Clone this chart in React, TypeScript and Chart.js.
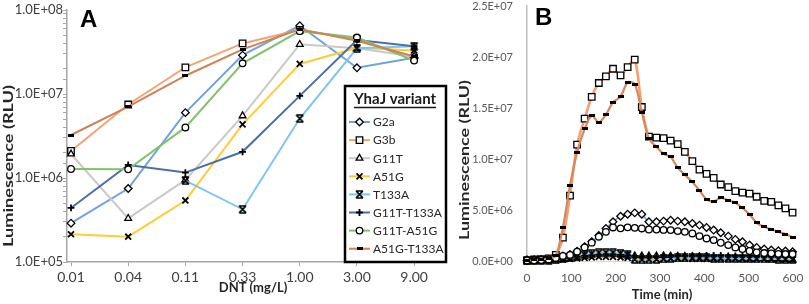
import React, { useEffect, useRef } from 'react';
import { Chart, registerables } from 'chart.js';
import { drawPoint } from 'chart.js/helpers';

Chart.register(...registerables);

// ---------------- data ----------------
const variantNames = ['G2a', 'G3b', 'G11T', 'A51G', 'T133A', 'G11T-T133A', 'G11T-A51G', 'A51G-T133A'];

// Panel A: luminescence vs DNT dose
const doseLabels = ['0.01', '0.04', '0.11', '0.33', '1.00', '3.00', '9.00'];
const doseG2a = [2.9e5, 7.5e5, 6.0e6, 2.9e7, 6.5e7, 2.05e7, 2.7e7];
const doseG3b = [2.1e6, 7.5e6, 2.08e7, 4.0e7, 5.8e7, 4.5e7, 2.7e7];
const doseG11T = [1.93e6, 3.3e5, 9.5e5, 5.5e6, 3.9e7, 3.5e7, 2.8e7];
const doseA51G = [2.14e5, 2.0e5, 5.4e5, 4.35e6, 2.28e7, 3.55e7, 3.3e7];
const doseT133A = [null, null, 9.3e5, 4.24e5, 5.1e6, 3.5e7, 3.7e7];
const doseG11T_T133A = [4.4e5, 1.43e6, 1.16e6, 2.05e6, 9.5e6, 4.4e7, 3.7e7];
const doseG11T_A51G = [1.28e6, 1.27e6, 4.0e6, 2.32e7, 5.6e7, 4.7e7, 2.5e7];
const doseA51G_T133A = [3.25e6, 7.06e6, 1.65e7, 3.4e7, 5.9e7, 4.3e7, 2.8e7];
const doseSeries = [doseG2a, doseG3b, doseG11T, doseA51G, doseT133A, doseG11T_T133A, doseG11T_A51G, doseA51G_T133A];

// Panel B: luminescence vs time
const timeMin = [0, 16, 32, 49, 65, 81, 97, 113, 130, 146, 162, 178, 194, 211, 227, 243, 259, 275, 292, 308, 324, 340, 356, 373, 389, 405, 421, 437, 454, 470, 486, 502, 518, 535, 551, 567, 583, 599];
const timeG2a = [5e4, 7e4, 1e5, 1.5e5, 3e5, 5e5, 6.5e5, 9.5e5, 1.4e6, 1.9e6, 2.5e6, 3.19e6, 3.84e6, 4.39e6, 4.59e6, 4.72e6, 4.59e6, 3.84e6, 3.84e6, 3.91e6, 4.0e6, 3.91e6, 3.84e6, 3.68e6, 3.52e6, 3.29e6, 3.03e6, 2.77e6, 2.44e6, 2.12e6, 1.89e6, 1.56e6, 1.33e6, 1.17e6, 1.07e6, 1.0e6, 9.8e5, 9.1e5];
const timeG3b = [5e4, 1.5e5, 1.7e5, 2.5e5, 6.0e5, 2.3e6, 6.4e6, 1.14e7, 1.395e7, 1.61e7, 1.745e7, 1.81e7, 1.885e7, 1.82e7, 1.9e7, 1.975e7, 1.51e7, 1.22e7, 1.21e7, 1.205e7, 1.18e7, 1.145e7, 1.07e7, 9.8e6, 8.95e6, 8.55e6, 8.15e6, 7.5e6, 7.25e6, 6.85e6, 6.7e6, 6.6e6, 6.3e6, 5.9e6, 5.8e6, 5.45e6, 5.15e6, 4.75e6];
const timeG11T = [1e5, 1e5, 1e5, 1.2e5, 1.5e5, 2e5, 3e5, 4e5, 5e5, 5.5e5, 6e5, 6e5, 6e5, 5.8e5, 5.5e5, 5e5, 5e5, 5e5, 5e5, 5e5, 4.8e5, 4.5e5, 4.5e5, 4.2e5, 4e5, 4e5, 3.8e5, 3.5e5, 3.5e5, 3.3e5, 3e5, 3e5, 2.8e5, 2.5e5, 2.2e5, 2e5, 1.5e5, 1.2e5];
const timeA51G = [2e4, 3e4, 5e4, 7e4, 1e5, 1.5e5, 2e5, 2.5e5, 3e5, 3.5e5, 4e5, 4e5, 4e5, 3.5e5, 3e5, 2.5e5, 2e5, 2e5, 2e5, 2.2e5, 2.2e5, 2.2e5, 2.2e5, 2e5, 2e5, 2e5, 2e5, 2e5, 2e5, 2e5, 2e5, 1.8e5, 1.8e5, 1.8e5, 1.8e5, 1.5e5, 1.5e5, 1.5e5];
const timeT133A = [2e4, 3e4, 5e4, 8e4, 1.2e5, 2e5, 3e5, 4.5e5, 6e5, 7e5, 8e5, 8.2e5, 8e5, 7.5e5, 6e5, 1.5e5, 1e5, 1.2e5, 1.5e5, 2e5, 2.5e5, 3e5, 3e5, 3e5, 3e5, 3e5, 2.8e5, 2.8e5, 2.7e5, 2.5e5, 2.5e5, 2.5e5, 2.2e5, 2e5, 2e5, 1.8e5, 1.8e5, 1.5e5];
const timeG11T_T133A = [2e4, 3e4, 5e4, 8e4, 1.2e5, 2e5, 3e5, 4e5, 5e5, 5.5e5, 6e5, 6.5e5, 6.5e5, 6e5, 5.5e5, 5e5, 4.5e5, 4.5e5, 4.5e5, 5e5, 5e5, 5e5, 5e5, 5e5, 5e5, 5.5e5, 5.5e5, 5.5e5, 5e5, 5e5, 5e5, 5e5, 4.8e5, 4.5e5, 4.5e5, 4.2e5, 4e5, 4e5];
const timeG11T_A51G = [5e4, 7e4, 1e5, 1.5e5, 3e5, 5e5, 6e5, 9.1e5, 1.33e6, 1.8e6, 2.38e6, 2.86e6, 3.29e6, 3.2e6, 3.3e6, 3.25e6, 3.19e6, 3.09e6, 3.09e6, 3.05e6, 3.03e6, 2.93e6, 2.86e6, 2.7e6, 2.44e6, 2.21e6, 2.05e6, 1.79e6, 1.56e6, 1.33e6, 1.17e6, 9.8e5, 8.5e5, 7.8e5, 7.5e5, 7e5, 6.8e5, 6.8e5];
const timeA51G_T133A = [5e4, 1e5, 1.5e5, 2.5e5, 5e5, 3.3e6, 7.4e6, 1.065e7, 1.296e7, 1.423e7, 1.36e7, 1.436e7, 1.556e7, 1.611e7, 1.751e7, 1.735e7, 1.46e7, 1.2e7, 1.12e7, 1.05e7, 1.02e7, 9.15e6, 8.45e6, 7.75e6, 6.93e6, 6.05e6, 5.86e6, 6.18e6, 5.96e6, 5.7e6, 5.2e6, 4.56e6, 3.74e6, 3.35e6, 3.09e6, 2.86e6, 2.64e6, 2.31e6];
const timeSeries = [timeG2a, timeG3b, timeG11T, timeA51G, timeT133A, timeG11T_T133A, timeG11T_A51G, timeA51G_T133A];

// ---------------- styles ----------------
const lineColors = ['#6fa3d9', '#f4a373', '#c9c9c9', '#ffcc33', '#82c5ec', '#4a6ea6', '#80c26c', '#cd8257'];
const lineColorsB = ['#6fa3d9', '#f2a070', '#c9c9c9', '#ffcc33', '#82c5ec', '#4a6ea6', '#80c26c', '#d7875c'];
const lineWidthsB = [1.6, 2.6, 1.6, 1.6, 1.6, 1.6, 1.6, 2.2];
const markerKinds = ['rectRot', 'rect', 'triangle', 'crossRot', 'hourglass', 'cross', 'circle', 'bar'];
const markerRadius: Record<string, number> = { rectRot: 3.8, rect: 4.6, triangle: 3.9, crossRot: 4.2, hourglass: 4, cross: 3.4, circle: 3.3, bar: 3 };

const FONT = 'Lato, "Open Sans", "DejaVu Sans", sans-serif';
Chart.defaults.font.family = FONT;

function fmtE(v: number): string {
  const [m, e] = Number(v).toExponential(1).split('e');
  const n = parseInt(e, 10);
  return m + 'E' + (n < 0 ? '-' : '+') + String(Math.abs(n)).padStart(2, '0');
}

function makeHourglass(): HTMLCanvasElement {
  const c = document.createElement('canvas');
  c.width = 9; c.height = 9;
  const g = c.getContext('2d')!;
  g.strokeStyle = '#000'; g.lineWidth = 1.7;
  g.beginPath();
  g.moveTo(1, 1); g.lineTo(8, 8); g.moveTo(8, 1); g.lineTo(1, 8);
  g.moveTo(1, 1); g.lineTo(8, 1); g.moveTo(1, 8); g.lineTo(8, 8);
  g.stroke();
  return c;
}
function makeBar(): HTMLCanvasElement {
  const c = document.createElement('canvas');
  c.width = 6; c.height = 3;
  const g = c.getContext('2d')!;
  g.fillStyle = '#000'; g.fillRect(0, 0, 6, 3);
  return c;
}

function markerStyle(i: number, custom: Record<string, any>) {
  const kind = markerKinds[i];
  const isStroke = kind === 'cross' || kind === 'crossRot';
  return {
    pointStyle: custom[kind] ?? kind,
    pointRadius: markerRadius[kind],
    pointBackgroundColor: '#ffffff',
    pointBorderColor: '#000000',
    pointBorderWidth: isStroke ? 1.8 : 1.3,
  };
}

type TextItem = { text: string; x: number; y: number; font: string; color: string; rotate?: boolean; length?: number; align?: CanvasTextAlign; baseline?: CanvasTextBaseline };

function textPlugin(id: string, items: TextItem[]) {
  return {
    id,
    afterDraw(chart: any) {
      const ctx = chart.ctx as CanvasRenderingContext2D;
      items.forEach((it) => {
        ctx.save();
        ctx.font = it.font;
        ctx.fillStyle = it.color;
        ctx.textAlign = it.align ?? 'center';
        ctx.textBaseline = it.baseline ?? 'middle';
        ctx.translate(it.x, it.y);
        if (it.rotate) ctx.rotate(-Math.PI / 2);
        if (it.length) {
          const w = ctx.measureText(it.text).width;
          ctx.scale(it.length / w, 1);
        }
        ctx.fillText(it.text, 0, 0);
        ctx.restore();
      });
    },
  };
}

const LEG = { left: 345, top: 86, right: 446, bottom: 262, titleX: 395, titleY: 99, rowY0: 122, rowGap: 18.1, lineX0: 349, lineX1: 370, textX: 373 };

const boxLegend = {
  id: 'boxLegend',
  afterDraw(chart: any) {
    const ctx = chart.ctx as CanvasRenderingContext2D;
    ctx.save();
    ctx.fillStyle = '#ffffff';
    ctx.fillRect(LEG.left, LEG.top, LEG.right - LEG.left, LEG.bottom - LEG.top);
    ctx.strokeStyle = '#000000';
    ctx.lineWidth = 2.5;
    ctx.strokeRect(LEG.left, LEG.top, LEG.right - LEG.left, LEG.bottom - LEG.top);
    // title
    ctx.font = `bold 15px ${FONT}`;
    ctx.fillStyle = '#1a1a1a';
    ctx.textAlign = 'center';
    ctx.textBaseline = 'middle';
    ctx.fillText('YhaJ variant', LEG.titleX, LEG.titleY);
    const tw = ctx.measureText('YhaJ variant').width;
    ctx.lineWidth = 1.3;
    ctx.strokeStyle = '#1a1a1a';
    ctx.beginPath();
    ctx.moveTo(LEG.titleX - tw / 2, LEG.titleY + 8.5);
    ctx.lineTo(LEG.titleX + tw / 2, LEG.titleY + 8.5);
    ctx.stroke();
    chart.data.datasets.forEach((ds: any, i: number) => {
      const y = LEG.rowY0 + i * LEG.rowGap;
      ctx.strokeStyle = ds.borderColor;
      ctx.lineWidth = 2;
      ctx.beginPath();
      ctx.moveTo(LEG.lineX0, y);
      ctx.lineTo(LEG.lineX1, y);
      ctx.stroke();
      ctx.fillStyle = '#ffffff';
      ctx.strokeStyle = '#000000';
      ctx.lineWidth = ds.pointBorderWidth;
      drawPoint(ctx, { pointStyle: ds.pointStyle, radius: ds.pointRadius, borderWidth: ds.pointBorderWidth, rotation: 0 } as any, (LEG.lineX0 + LEG.lineX1) / 2, y);
      ctx.fillStyle = '#262626';
      ctx.font = `12px ${FONT}`;
      ctx.textAlign = 'left';
      ctx.textBaseline = 'middle';
      ctx.fillText(ds.label, LEG.textX, y + 0.5);
    });
    ctx.restore();
  },
};

const WA = 455;
const WB = 809 - WA;
const H = 304;

export default function App() {
  const refA = useRef<HTMLCanvasElement>(null);
  const refB = useRef<HTMLCanvasElement>(null);

  useEffect(() => {
    const custom = { hourglass: makeHourglass(), bar: makeBar() };
    const isPow10 = (v: number) => Math.abs(Math.log10(v) - Math.round(Math.log10(v))) < 1e-9;

    const chartA = new Chart(refA.current!, {
      type: 'line',
      data: {
        datasets: variantNames.map((name, i) => ({
          label: name,
          data: doseSeries[i].map((v, j) => ({ x: j, y: v })),
          borderColor: lineColors[i],
          borderWidth: 2,
          tension: 0,
          clip: false as any,
          order: variantNames.length - i,
          ...markerStyle(i, custom),
        })),
      },
      options: {
        responsive: false,
        animation: false,
        events: [],
        layout: { padding: { top: 10, right: WA - 421, left: 0, bottom: 0 } },
        plugins: { legend: { display: false }, tooltip: { enabled: false } },
        scales: {
          x: {
            type: 'linear',
            min: -0.07,
            max: 6.12,
            afterBuildTicks: (s: any) => { s.ticks = doseLabels.map((_, i) => ({ value: i })); },
            ticks: { callback: (_v: any, idx: number) => doseLabels[idx], font: { size: 14 }, color: '#404040', padding: 3, maxRotation: 0, autoSkip: false },
            grid: { drawOnChartArea: false, drawTicks: true, tickLength: 4, color: '#a6a6a6' },
            border: { color: '#a6a6a6', width: 1.5 },
            afterFit: (s: any) => { s.height = H - 262; s.paddingLeft = 0; s.paddingRight = 0; },
          },
          y: {
            type: 'logarithmic',
            min: 1e5,
            max: 1e8,
            ticks: { callback: (v: any) => (isPow10(Number(v)) ? fmtE(Number(v)) : ''), autoSkip: false, font: { size: 13 }, color: '#404040', padding: 0 },
            grid: { drawOnChartArea: false, drawTicks: true, tickLength: 4, color: '#a6a6a6' },
            border: { color: '#a6a6a6', width: 1.5 },
            afterFit: (s: any) => { s.width = 67; s.paddingTop = 0; s.paddingBottom = 0; },
          },
        },
      } as any,
      plugins: [
        boxLegend,
        textPlugin('textA', [
          { text: 'A', x: 80, y: 27, font: 'bold 24px "Liberation Sans", Arial, sans-serif', color: '#000', align: 'left', baseline: 'alphabetic' },
          { text: 'Luminescence (RLU)', x: 9, y: 166, font: `bold 13px ${FONT}`, color: '#262626', rotate: true, length: 162 },
          { text: 'DNT (mg/L)', x: 253, y: 288, font: `bold 13px ${FONT}`, color: '#262626' },
        ]),
      ] as any,
    });

    const chartB = new Chart(refB.current!, {
      type: 'line',
      data: {
        datasets: variantNames.map((name, i) => ({
          label: name,
          data: timeMin.map((t, k) => ({ x: t, y: timeSeries[i][k] })),
          borderColor: lineColorsB[i],
          borderWidth: lineWidthsB[i],
          tension: 0.3,
          clip: false as any,
          order: variantNames.length - i,
          ...markerStyle(i, custom),
        })),
      },
      options: {
        responsive: false,
        animation: false,
        events: [],
        layout: { padding: { top: 5, right: WB - (793 - WA), left: 0, bottom: 0 } },
        plugins: { legend: { display: false }, tooltip: { enabled: false } },
        scales: {
          x: {
            type: 'linear',
            min: 0,
            max: 600,
            ticks: { stepSize: 100, font: { size: 12 }, color: '#595959', padding: 10, maxRotation: 0 },
            grid: { display: false, drawTicks: false },
            border: { display: true, color: '#d9d9d9', width: 1 },
            afterFit: (s: any) => { s.height = H - 261; s.paddingLeft = 0; s.paddingRight = 0; },
          },
          y: {
            type: 'linear',
            min: 0,
            max: 2.5e7,
            ticks: { stepSize: 5e6, callback: (v: any) => fmtE(Number(v)), font: { size: 11 }, color: '#595959', padding: 14 },
            grid: { display: false, drawTicks: false },
            border: { display: true, color: '#bfbfbf', width: 1.5 },
            afterFit: (s: any) => { s.width = 527 - WA; s.paddingTop = 0; s.paddingBottom = 0; },
          },
        },
      } as any,
      plugins: [
        textPlugin('textB', [
          { text: 'B', x: 535 - WA, y: 25, font: 'bold 24px "Liberation Sans", Arial, sans-serif', color: '#000', align: 'left', baseline: 'alphabetic' },
          { text: 'Luminescence (RLU)', x: 465 - WA, y: 160, font: `bold 12.5px ${FONT}`, color: '#262626', rotate: true, length: 160 },
          { text: 'Time (min)', x: 662 - WA, y: 295, font: `bold 13px ${FONT}`, color: '#262626' },
        ]),
      ] as any,
    });

    return () => {
      chartA.destroy();
      chartB.destroy();
    };
  }, []);

  return (
    <div style={{ position: 'absolute', left: 0, top: 0, width: 809, height: H, background: '#fff' }}>
      <canvas ref={refA} width={WA} height={H} style={{ position: 'absolute', left: 0, top: 0, width: WA, height: H }} />
      <canvas ref={refB} width={WB} height={H} style={{ position: 'absolute', left: WA, top: 0, width: WB, height: H }} />
    </div>
  );
}
